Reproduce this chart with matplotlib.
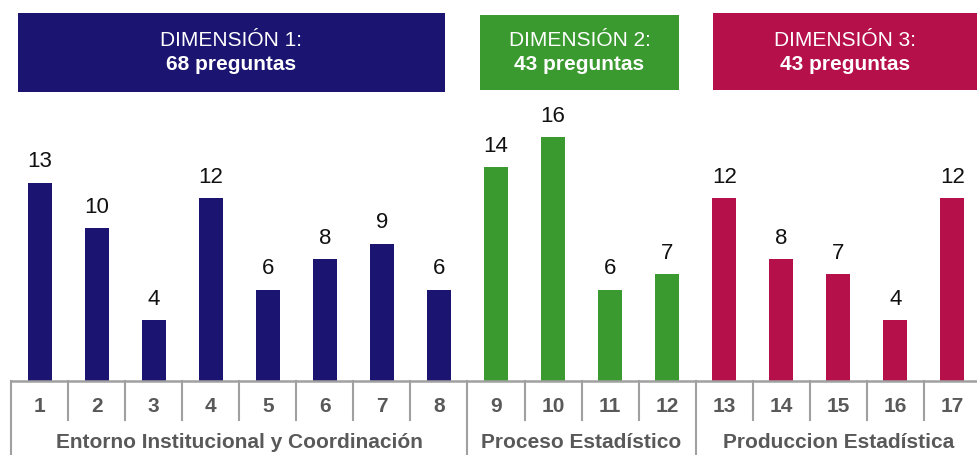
import matplotlib
matplotlib.use("Agg")
import matplotlib.pyplot as plt
from matplotlib.patches import Rectangle
import matplotlib.transforms as mtransforms

plt.rcParams['font.family'] = ['Liberation Sans', 'DejaVu Sans']

categories = [str(i) for i in range(1, 18)]
values = [13, 10, 4, 12, 6, 8, 9, 6, 14, 16, 6, 7, 12, 8, 7, 4, 12]
groups = ["Entorno Institucional y Coordinación", "Proceso Estadístico", "Produccion Estadística"]
group_sizes = [8, 4, 5]
group_titles = ["DIMENSIÓN 1:", "DIMENSIÓN 2:", "DIMENSIÓN 3:"]
group_counts = ["68 preguntas", "43 preguntas", "43 preguntas"]
group_colors = ["#1B1470", "#3A9A2F", "#B6104A"]

W, H = 978, 455
fig = plt.figure(figsize=(W / 100, H / 100), dpi=100)

base_px = 381
unit_px = 15.25
left_px, right_px = 11, 981
ax = fig.add_axes([left_px / W, 1 - base_px / H, (right_px - left_px) / W, base_px / H])
ax.set_xlim(-0.5, len(values) - 0.5)
ax.set_ylim(0, base_px / unit_px)
ax.axis('off')

bar_colors = []
for c, n in zip(group_colors, group_sizes):
    bar_colors += [c] * n
x = list(range(len(values)))
bars = ax.bar(x, values, width=0.42, color=bar_colors)
for xi, v in zip(x, values):
    ax.annotate(str(v), (xi, v), xytext=(0, 7.5), textcoords='offset points',
                ha='center', va='bottom', fontsize=16, color='#111111')

gray = '#A0A0A0'
text_gray = '#595959'
trans = mtransforms.blended_transform_factory(ax.transData, fig.transFigure)
# axis line
ax.plot([-0.5, len(values) - 0.5], [0, 0], color=gray, lw=1.8, clip_on=False)
# separators
y0 = 1 - base_px / H
y_short = 1 - 420 / H
group_edges = [-0.5]
s = 0
for n in group_sizes:
    s += n
    group_edges.append(s - 0.5)
for i in range(len(values) + 1):
    xb = i - 0.5
    if xb in group_edges:
        fig.add_artist(plt.Line2D([xb, xb], [y0, 0], transform=trans, color=gray, lw=1.5))
    else:
        fig.add_artist(plt.Line2D([xb, xb], [y0, y_short], transform=trans, color=gray, lw=1.5))
# tick labels
for xi, lab in zip(x, categories):
    fig.text(xi, 1 - 407 / H, lab, transform=trans, ha='center', va='center',
             fontsize=15, fontweight='bold', color=text_gray)
# group labels
for g, (a, b) in enumerate(zip(group_edges[:-1], group_edges[1:])):
    fig.text((a + b) / 2, 1 - 443 / H, groups[g], transform=trans, ha='center', va='center',
             fontsize=15, fontweight='bold', color=text_gray)

# header boxes (pixel layout)
boxes = [(18, 13, 445, 92), (480, 15, 679, 90), (713, 13, 978, 90)]
for (x0, yt, x1, yb), c, t, cnt in zip(boxes, group_colors, group_titles, group_counts):
    fig.add_artist(Rectangle((x0 / W, 1 - yb / H), (x1 - x0) / W, (yb - yt) / H,
                             transform=fig.transFigure, color=c, lw=0))
    cx = (x0 + x1) / 2 / W
    fig.text(cx, 1 - 41 / H, t, ha='center', va='center', fontsize=15, color='white')
    fig.text(cx, 1 - 65 / H, cnt, ha='center', va='center', fontsize=15, fontweight='bold', color='white')

fig.savefig("out.png", dpi=100)
